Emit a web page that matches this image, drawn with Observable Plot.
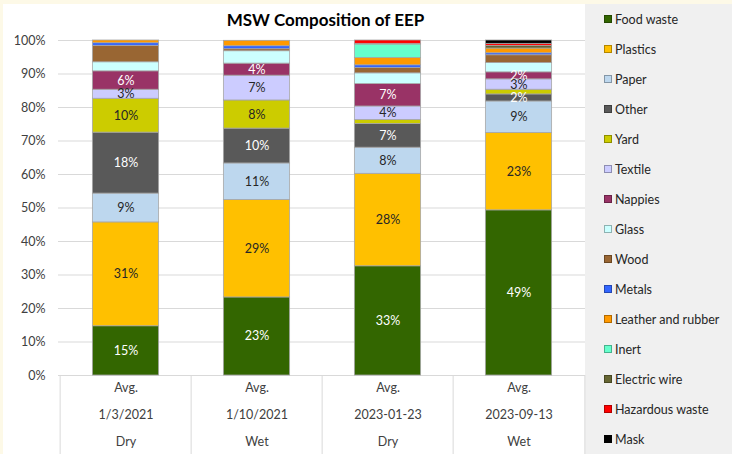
<!DOCTYPE html>
<html><head><meta charset="utf-8">
<script src="https://cdn.jsdelivr.net/npm/d3@7"></script>
<script src="https://cdn.jsdelivr.net/npm/@observablehq/plot@0.6"></script>
<style>
html,body{margin:0;padding:0;}
body{width:732px;height:454px;background:#fdf9e7;font-family:Lato,"Open Sans",sans-serif;overflow:hidden;}
#wrap{position:relative;width:732px;height:454px;}
#plotbg{position:absolute;left:3px;top:4px;width:582px;height:450px;background:#fff;}
#legend{position:absolute;left:585px;top:4px;width:147px;height:450px;background:#f0f0f0;}
#legend .item{height:30px;display:flex;align-items:center;padding-left:19px;font-size:12.5px;color:#262626;white-space:nowrap;}
#legend .sw{width:8px;height:8px;margin-right:3px;box-sizing:border-box;border:1px solid rgba(0,0,0,0.3);}
#title{position:absolute;left:0;top:9px;width:651px;text-align:center;font-weight:bold;font-size:17px;color:#000;line-height:22px;}
#chart{position:absolute;left:0;top:0;}
</style></head><body>
<div id="wrap"><div id="plotbg"></div><div id="legend"></div><div id="chart"></div><div id="title">MSW Composition of EEP</div></div>
<script>
// Categories (x axis, three label lines)
const avgLabel = "Avg.";
const dates = ["1/3/2021", "1/10/2021", "2023-01-23", "2023-09-13"];
const seasons = ["Dry", "Wet", "Dry", "Wet"];

// Materials, bottom to top, and their colours
const materials = ["Food waste", "Plastics", "Paper", "Other", "Yard", "Textile", "Nappies", "Glass", "Wood", "Metals", "Leather and rubber", "Inert", "Electric wire", "Hazardous waste", "Mask"];
const colors = ["#336600", "#ffc000", "#bdd7ee", "#595959", "#cccc00", "#ccccff", "#993366", "#ccffff", "#996633", "#3366ff", "#ff9900", "#66ffcc", "#666633", "#ff0000", "#000000"];

// Percent composition per category (same order as dates)
const foodWaste = [14.7, 23.3, 32.6, 49.3];
const plastics = [31.0, 29.1, 27.6, 23.1];
const paper = [8.6, 10.9, 7.8, 9.4];
const other = [18.2, 10.4, 7.1, 2.1];
const yard = [10.1, 8.4, 1.2, 1.4];
const textile = [2.7, 7.4, 4.0, 3.1];
const nappies = [5.5, 3.6, 6.7, 2.1];
const glass = [2.7, 3.7, 3.2, 2.8];
const wood = [4.9, 0.6, 1.6, 2.3];
const metals = [0.8, 0.9, 0.8, 0.6];
const leather = [0.8, 1.6, 2.2, 1.4];
const inert = [0, 0, 4.0, 0];
const electricWire = [0, 0, 0.2, 0.8];
const hazardous = [0, 0, 1.0, 0.6];
const mask = [0, 0, 0, 1.0];

const series = [foodWaste, plastics, paper, other, yard, textile, nappies, glass, wood, metals, leather, inert, electricWire, hazardous, mask];
const labelled = ["Food waste", "Plastics", "Paper", "Other", "Yard", "Textile", "Nappies"];
const lightText = ["Food waste", "Other", "Nappies"];
const yTicks = d3.range(0, 101, 10);

const rows = [];
dates.forEach((d, i) => materials.forEach((m, j) => {
  const v = series[j][i];
  if (v > 0) rows.push({date: d, season: seasons[i], material: m, value: v});
}));
const showLabel = d => labelled.includes(d.material) && d.value >= 1.95;
const fmt = d => Math.round(d.value) + "%";

const W = 732, H = 454, mL = 58, mR = 147, mT = 40, mB = 79;
const band = (W - mL - mR) / dates.length;
const barW = 67;
const inset = (band - barW) / 2;

const chart = Plot.plot({
  width: W, height: H,
  marginLeft: mL, marginRight: mR, marginTop: mT, marginBottom: mB,
  style: {background: "transparent", fontFamily: "Lato, 'Open Sans', sans-serif", fontSize: "12px", color: "#404040"},
  x: {domain: dates, padding: 0, axis: null},
  y: {domain: [0, 100], axis: null},
  color: {domain: materials, range: colors},
  marks: [
    Plot.gridY(yTicks, {stroke: "#d9d9d9", strokeOpacity: 1}),
    Plot.axisY(yTicks, {tickSize: 0, tickPadding: 13, tickFormat: d => d + "%", label: null, fill: "#404040", fontSize: 12.5}),
    Plot.ruleX(dates, {x: d => d, dx: -band / 2, insetTop: H - mT - mB, insetBottom: -mB, stroke: "#d9d9d9"}),
    Plot.ruleX(dates.slice(-1), {x: d => d, dx: band / 2, insetTop: H - mT - mB, insetBottom: -mB, stroke: "#d9d9d9"}),
    Plot.barY(rows, {x: "date", y: "value", z: "material", fill: "material", order: materials, stroke: "#a6a6a6", strokeWidth: 0.8, insetLeft: inset, insetRight: inset}),
    Plot.text(rows, Plot.stackY({x: "date", y: "value", z: "material", order: materials,
      text: d => showLabel(d) && lightText.includes(d.material) ? fmt(d) : null, fill: "#ffffff", fontSize: 12.5})),
    Plot.text(rows, Plot.stackY({x: "date", y: "value", z: "material", order: materials,
      text: d => showLabel(d) && !lightText.includes(d.material) ? fmt(d) : null, fill: "#262626", fontSize: 12.5})),
    Plot.text(dates, {x: d => d, frameAnchor: "bottom", dy: 16, text: () => avgLabel, fill: "#404040", fontSize: 12.5}),
    Plot.text(dates, {x: d => d, frameAnchor: "bottom", dy: 43, text: d => d, fill: "#404040", fontSize: 12.5}),
    Plot.text(dates, {x: d => d, frameAnchor: "bottom", dy: 70, text: (d, i) => seasons[i], fill: "#404040", fontSize: 12.5})
  ]
});
document.getElementById("chart").appendChild(chart);

const legend = document.getElementById("legend");
materials.forEach((m, i) => {
  const item = document.createElement("div");
  item.className = "item";
  const sw = document.createElement("span");
  sw.className = "sw";
  sw.style.background = colors[i];
  const t = document.createElement("span");
  t.textContent = m;
  item.appendChild(sw); item.appendChild(t);
  legend.appendChild(item);
});
</script>
</body></html>
